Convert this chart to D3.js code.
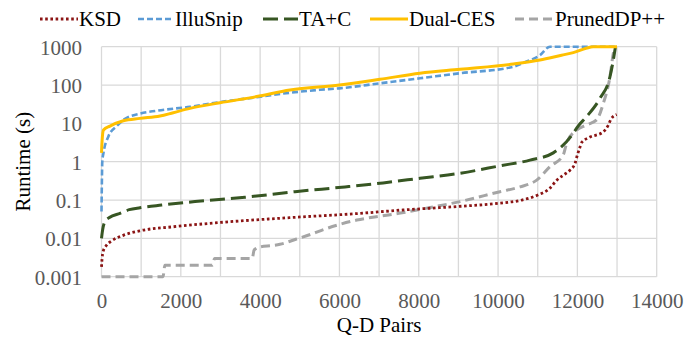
<!DOCTYPE html>
<html><head><meta charset="utf-8">
<script src="https://cdn.jsdelivr.net/npm/d3@7"></script>
<style>
html,body{margin:0;padding:0;background:#fff;}
svg text{font-family:"Liberation Serif","Times New Roman",serif;}
</style></head>
<body><svg id="c" width="698" height="339"></svg>
<script>
// ---- data ----
const seriesNames = ["KSD", "IlluSnip", "TA+C", "Dual-CES", "PrunedDP++"];
const xTicks = [0, 2000, 4000, 6000, 8000, 10000, 12000, 14000];
const yTicks = [0.001, 0.01, 0.1, 1, 10, 100, 1000];
const yTickLabels = ["0.001", "0.01", "0.1", "1", "10", "100", "1000"];

const ksdX = [0, 15, 40, 120, 250, 550, 1000, 1800, 3000, 4800, 6400, 7600, 9000, 10000, 10600, 11000, 11300, 11480, 11650, 11812, 11940, 12000, 12060, 12110, 12300, 12650, 12780, 12850, 12990];
const ksdY = [0.0018, 0.003, 0.0045, 0.0065, 0.0085, 0.012, 0.016, 0.02, 0.026, 0.035, 0.044, 0.055, 0.068, 0.082, 0.1, 0.135, 0.2, 0.33, 0.45, 0.6, 0.9, 1.5, 2.3, 3.2, 4.3, 6, 9, 13, 17];

const illuX = [0, 10, 20, 50, 172, 383, 550, 970, 1392, 2230, 3071, 3913, 4753, 5500, 6000, 7022, 8031, 9040, 10384, 10636, 11056, 11308, 13000];
const illuY = [0.05, 0.3, 1.0, 1.7, 4.5, 8.5, 12.3, 18, 21.4, 27, 37, 48, 63, 75, 82, 111, 150, 203, 300, 380, 600, 1000, 1000];

const tacX = [0, 30, 90, 200, 466, 700, 970, 1518, 2358, 3618, 4879, 6140, 7100, 8031, 9040, 10048, 10805, 11392, 11896, 12000, 12233, 12570, 12822, 12906, 12960];
const tacY = [0.01, 0.017, 0.028, 0.035, 0.045, 0.056, 0.063, 0.074, 0.091, 0.118, 0.165, 0.22, 0.28, 0.37, 0.5, 0.78, 1.1, 1.7, 5.5, 8, 15, 45, 165, 450, 1000];

const dualX = [0, 15, 50, 214, 550, 970, 1475, 1810, 2230, 2990, 3913, 4753, 6000, 7022, 8031, 9040, 10384, 11056, 11600, 11896, 12317, 12400, 13000];
const dualY = [1.7, 3.5, 6.7, 8.5, 11.7, 13.5, 15.5, 19, 24.6, 34.5, 50, 74, 100, 141, 203, 257, 353, 450, 600, 700, 970, 1000, 1000];

const prunX = [0, 1550, 1600, 2800, 2850, 3800, 3850, 4000, 4300, 4500, 4900, 5300, 5600, 6000, 6435, 7022, 7500, 8031, 9040, 10048, 10553, 10973, 11308, 11644, 11728, 11980, 12233, 12485, 12653, 12822, 12906, 12950];
const prunY = [0.001, 0.001, 0.002, 0.002, 0.003, 0.003, 0.005, 0.006, 0.0065, 0.007, 0.0095, 0.013, 0.017, 0.023, 0.03, 0.038, 0.045, 0.057, 0.091, 0.165, 0.22, 0.33, 0.74, 1.5, 3.0, 6.7, 9.1, 12.3, 33, 165, 670, 1000];

// ---- styles ----
const styles = [
  {color: "#8B1414", dash: "2.6,2.6", width: 2.8},
  {color: "#5B9BD5", dash: "6,3", width: 2.6},
  {color: "#375623", dash: "15,6", width: 3},
  {color: "#FFC000", dash: null, width: 3},
  {color: "#A5A5A5", dash: "9,5", width: 3}
];
const seriesData = [[ksdX, ksdY], [illuX, illuY], [tacX, tacY], [dualX, dualY], [prunX, prunY]];

const svg = d3.select("#c");
const L = 101.5, R = 656.7, T = 46.7, B = 276.7;
const x = d3.scaleLinear().domain([0, 14000]).range([L, R]);
const y = d3.scaleLog().domain([0.001, 1000]).range([B, T]);
const grid = "#D9D9D9";

// vertical gridlines every 1000
const vg = d3.range(0, 14001, 1000);
svg.append("g").selectAll("line").data(vg).join("line")
  .attr("x1", d => x(d)).attr("x2", d => x(d)).attr("y1", T).attr("y2", B)
  .attr("stroke", grid).attr("stroke-width", 1.3);
svg.append("g").selectAll("line").data(yTicks).join("line")
  .attr("x1", L).attr("x2", R).attr("y1", d => y(d)).attr("y2", d => y(d))
  .attr("stroke", grid).attr("stroke-width", 1.3);

// axes (labels only)
const xAxis = d3.axisBottom(x).tickValues(xTicks).tickSize(0).tickFormat(d3.format("d"));
const gx = svg.append("g").attr("transform", `translate(0,${B})`).call(xAxis);
gx.select(".domain").remove();
gx.selectAll("text").attr("dy", null).attr("y", 31).attr("fill", "#595959")
  .attr("font-size", 21).attr("font-family", "Liberation Serif");

const yAxis = d3.axisLeft(y).tickValues(yTicks).tickSize(0).tickFormat((d, i) => yTickLabels[i]);
const gy = svg.append("g").attr("transform", `translate(${L},0)`).call(yAxis);
gy.select(".domain").remove();
gy.selectAll("text").attr("x", -19.5).attr("dy", "0.35em").attr("fill", "#595959")
  .attr("font-size", 21).attr("font-family", "Liberation Serif");

// titles
svg.append("text").attr("x", (L + R) / 2).attr("y", 332).attr("text-anchor", "middle")
  .attr("font-size", 21).attr("fill", "#000").text("Q-D Pairs");
svg.append("text").attr("transform", `translate(29.5,${(T + B) / 2}) rotate(-90)`)
  .attr("text-anchor", "middle").attr("font-size", 21).attr("fill", "#000").text("Runtime (s)");

// lines
const line = d3.line().x(d => x(d[0])).y(d => y(d[1])).curve(d3.curveMonotoneX);
const order = [4, 0, 2, 1, 3];
order.forEach(i => {
  const [xs, ys] = seriesData[i];
  const pts = xs.map((v, j) => [v, ys[j]]);
  const p = svg.append("path").datum(pts).attr("d", line)
    .attr("fill", "none").attr("stroke", styles[i].color).attr("stroke-width", styles[i].width);
  if (styles[i].dash) p.attr("stroke-dasharray", styles[i].dash);
});

// legend
const legX = [40, 138, 263, 370, 515];
const legW = [38, 36, 35, 38, 39];
const lg = svg.append("g");
seriesNames.forEach((n, i) => {
  const l = lg.append("line").attr("x1", legX[i]).attr("x2", legX[i] + legW[i]).attr("y1", 19).attr("y2", 19)
    .attr("stroke", styles[i].color).attr("stroke-width", styles[i].width);
  if (styles[i].dash) l.attr("stroke-dasharray", styles[i].dash);
  lg.append("text").attr("x", legX[i] + legW[i] + 1).attr("y", 26).attr("font-size", 21)
    .attr("fill", "#000").text(n);
});
</script></body></html>
